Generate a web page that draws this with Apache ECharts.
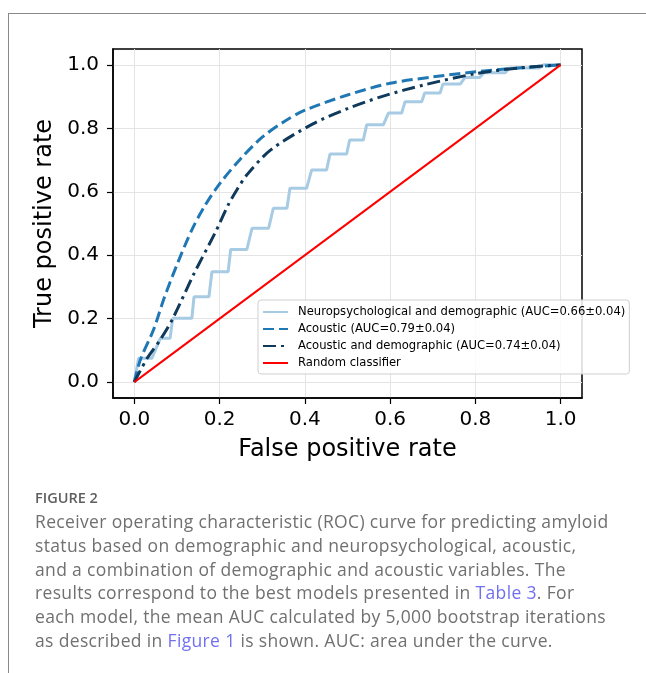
<!DOCTYPE html>
<html>
    <head>
        <meta charset="utf-8">
        <title>ROC</title>
        <script src="https://cdn.jsdelivr.net/npm/echarts@6/dist/echarts.min.js"></script>
        <style>
            html, body { margin: 0; padding: 0; background: #fff; }
            #frame { position: absolute; left: 8px; top: 13px; width: 660px; height: 700px;
                     border-left: 1.5px solid #8a8a8a; border-top: 1.5px solid #8a8a8a; }
            #main { position: absolute; left: 0; top: 0; width: 646px; height: 673px; }
            #cap { position: absolute; left: 35px; top: 488px; font-family: "Open Sans", sans-serif;
                   color: #707070; white-space: nowrap; }
            #cap .fig { font-size: 14.5px; font-weight: 600; color: #5e5e5e; line-height: 20px; }
            #cap .txt { font-size: 17.5px; letter-spacing: 0.35px; line-height: 23.8px; margin-top: 2px; }
            #cap a { color: #7070f0; text-decoration: none; }
        </style>
    </head>
    <body>
        <div id="frame"></div>
        <div id="main"></div>
        <div id="cap">
            <div class="fig">FIGURE 2</div>
            <div class="txt">Receiver operating characteristic (ROC) curve for predicting amyloid<br>status based on demographic and neuropsychological, acoustic,<br>and a combination of demographic and acoustic variables. The<br>results correspond to the best models presented in <a>Table 3</a>. For<br>each model, the mean AUC calculated by 5,000 bootstrap iterations<br>as described in <a>Figure 1</a> is shown. AUC: area under the curve.</div>
        </div>

        <script type="text/javascript">
            // tick positions for both axes
            var ticks = [0, 0.2, 0.4, 0.6, 0.8, 1.0];

            var names = [
                'Neuropsychological and demographic (AUC=0.66\u00b10.04)',
                'Acoustic (AUC=0.79\u00b10.04)',
                'Acoustic and demographic (AUC=0.74\u00b10.04)',
                'Random classifier'
            ];

            // [fpr, tpr]
            var neuro = [
                [0, 0], [0.01, 0.075], [0.041, 0.075], [0.061, 0.138], [0.084, 0.138],
                [0.09, 0.201], [0.135, 0.201], [0.14, 0.269], [0.175, 0.269], [0.182, 0.348],
                [0.22, 0.348], [0.226, 0.418], [0.264, 0.418], [0.276, 0.485], [0.315, 0.485],
                [0.326, 0.548], [0.358, 0.548], [0.365, 0.611], [0.404, 0.611], [0.416, 0.669],
                [0.451, 0.669], [0.459, 0.719], [0.498, 0.719], [0.505, 0.763], [0.537, 0.763],
                [0.545, 0.811], [0.584, 0.811], [0.596, 0.848], [0.627, 0.848], [0.635, 0.884],
                [0.674, 0.884], [0.681, 0.911], [0.717, 0.911], [0.724, 0.94], [0.765, 0.94],
                [0.775, 0.96], [0.81, 0.96], [0.82, 0.975], [0.87, 0.975], [0.88, 0.99],
                [0.95, 0.99], [0.96, 1], [1, 1]
            ];
            var acoustic = [
                [0, 0], [0.014, 0.07], [0.045, 0.165], [0.07, 0.265], [0.1, 0.37], [0.135, 0.48],
                [0.165, 0.555], [0.2, 0.625], [0.25, 0.705], [0.3, 0.772], [0.35, 0.82],
                [0.4, 0.857], [0.5, 0.905], [0.6, 0.942], [0.7, 0.962], [0.8, 0.978],
                [0.9, 0.99], [1, 1]
            ];
            var acousticDemo = [
                [0, 0], [0.03, 0.075], [0.06, 0.132], [0.09, 0.2], [0.14, 0.342], [0.19, 0.472],
                [0.22, 0.558], [0.24, 0.605], [0.265, 0.655], [0.32, 0.732], [0.42, 0.815],
                [0.5, 0.862], [0.58, 0.9], [0.68, 0.937], [0.8, 0.972], [0.9, 0.99], [1, 1]
            ];
            var random = [[0, 0], [1, 1]];

            var font = 'DejaVu Sans';

            function axis(name, gap, isY) {
                return {
                    type: 'value',
                    min: -0.05,
                    max: 1.05,
                    name: name,
                    nameLocation: 'middle',
                    nameGap: gap,
                    nameTextStyle: { fontFamily: font, fontSize: 24, color: '#000' },
                    axisLine: { show: true, onZero: false, lineStyle: { color: '#000', width: 1.5 } },
                    axisTick: { show: true, length: 6, customValues: ticks, lineStyle: { color: '#000', width: 1.2 } },
                    axisLabel: {
                        customValues: ticks,
                        margin: isY ? 14 : 12,
                        fontFamily: font, fontSize: 20, color: '#000',
                        formatter: function (v) { return v.toFixed(1); }
                    },
                    splitLine: { show: true, lineStyle: { color: '#e4e4e4', width: 1 } }
                };
            }

            var myChart = echarts.init(document.getElementById('main'));
            myChart.setOption({
                animation: false,
                grid: {
                    left: 113, right: 64, top: 49, bottom: 275,
                    show: true, borderColor: '#000', borderWidth: 1.5
                },
                xAxis: axis('False positive rate', 40, false),
                yAxis: axis('True positive rate', 54, true),
                legend: {
                    orient: 'vertical',
                    left: 258, top: 300,
                    padding: [6, 4, 5, 4],
                    itemWidth: 25, itemHeight: 12, itemGap: 5,
                    itemStyle: { opacity: 0 },
                    lineStyle: { width: 2 },
                    backgroundColor: 'rgba(255,255,255,0.85)',
                    borderColor: '#cfcfcf', borderWidth: 1, borderRadius: 3,
                    textStyle: { fontFamily: font, fontSize: 11.6, lineHeight: 12, color: '#000', padding: [0, 0, 0, 5] },
                    data: names
                },
                series: [
                    {
                        name: names[0], type: 'line', symbol: 'none', data: neuro,
                        lineStyle: { color: '#a6cbe3', width: 3 }, itemStyle: { color: '#a6cbe3' }
                    },
                    {
                        name: names[1], type: 'line', symbol: 'none', data: acoustic, smooth: 0.3,
                        lineStyle: { color: '#1f78b4', width: 3, type: [11, 5] }, itemStyle: { color: '#1f78b4' }
                    },
                    {
                        name: names[2], type: 'line', symbol: 'none', data: acousticDemo, smooth: 0.3,
                        lineStyle: { color: '#0f3a5c', width: 3, type: [13, 5, 3, 5] }, itemStyle: { color: '#0f3a5c' }
                    },
                    {
                        name: names[3], type: 'line', symbol: 'none', data: random,
                        lineStyle: { color: '#ff0000', width: 2 }, itemStyle: { color: '#ff0000' }
                    }
                ]
            });
        </script>
    </body>
</html>
